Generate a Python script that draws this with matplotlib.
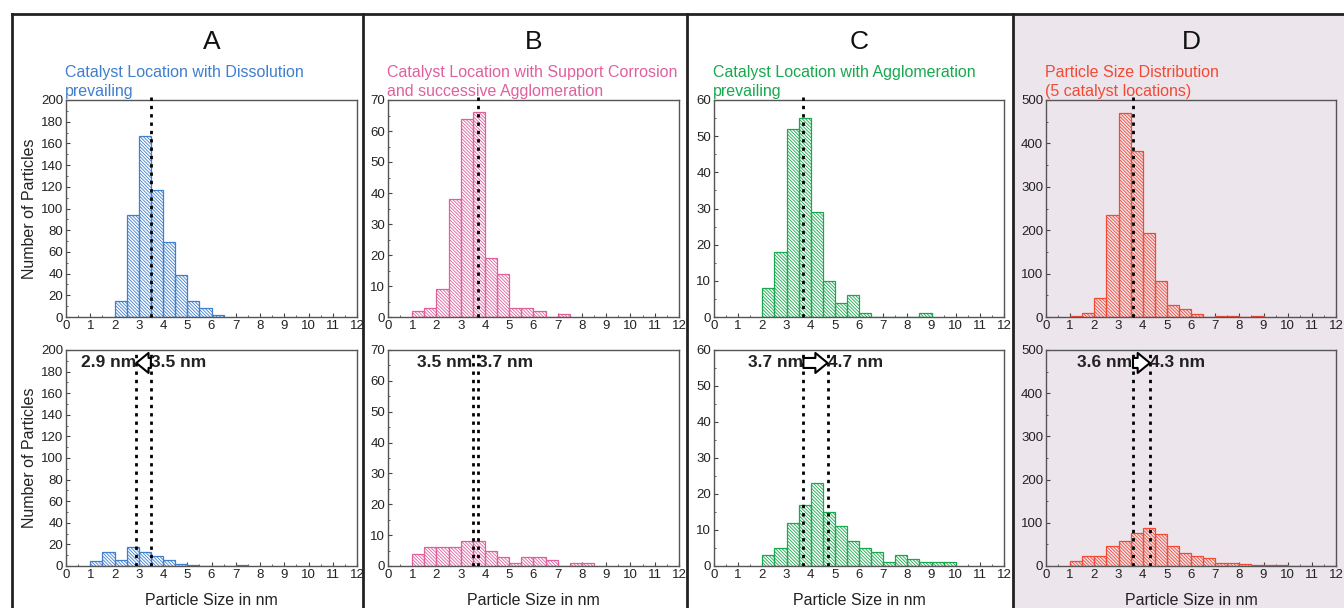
import numpy as np
import matplotlib
matplotlib.use("Agg")
import matplotlib.pyplot as plt
from matplotlib.patches import Rectangle
from matplotlib.ticker import MultipleLocator

plt.rcParams["font.family"] = ["Liberation Sans", "DejaVu Sans"]
plt.rcParams["hatch.linewidth"] = 0.6

# ---- data (bin width 0.5 nm, counts) ----
panel_letters = ["A", "B", "C", "D"]
panel_titles = [
    "Catalyst Location with Dissolution\nprevailing",
    "Catalyst Location with Support Corrosion\nand successive Agglomeration",
    "Catalyst Location with Agglomeration\nprevailing",
    "Particle Size Distribution\n(5 catalyst locations)",
]
panel_colors = ["#3f7fd0", "#e0609e", "#18a84e", "#f24a35"]
y_max = [200, 70, 60, 500]
y_major = [20, 10, 10, 100]

top_start = [2.0, 1.0, 2.0, 1.0]
top_counts = [
    [15, 94, 167, 117, 69, 39, 15, 8, 2],
    [2, 3, 9, 38, 64, 66, 19, 14, 3, 3, 2, 0, 1],
    [8, 18, 52, 55, 29, 10, 4, 6, 1, 0, 0, 0, 0, 1],
    [3, 10, 44, 234, 470, 383, 194, 83, 28, 19, 8, 0, 2, 2, 0, 2],
]
bottom_start = [1.0, 1.0, 2.0, 1.0]
bottom_counts = [
    [5, 13, 6, 18, 13, 9, 6, 2, 1, 0, 0, 0, 1],
    [4, 6, 6, 6, 8, 8, 5, 3, 1, 3, 3, 2, 0, 1, 1],
    [3, 5, 12, 17, 23, 15, 11, 7, 5, 4, 1, 3, 2, 1, 1, 1],
    [11, 24, 24, 46, 59, 77, 88, 74, 47, 31, 22, 18, 7, 8, 5, 2, 2, 2, 0, 1, 0, 1],
]
mean_before = [3.5, 3.7, 3.7, 3.6]
mean_after = [2.9, 3.5, 4.7, 4.3]
before_labels = ["3.5 nm", "3.7 nm", "3.7 nm", "3.6 nm"]
after_labels = ["2.9 nm", "3.5 nm", "4.7 nm", "4.3 nm"]
show_arrow = [True, False, True, True]

W, H = 1344, 608
fig = plt.figure(figsize=(W / 100, H / 100), dpi=100)


def rect(x0, y0, x1, y1):
    return [x0 / W, 1 - y1 / H, (x1 - x0) / W, (y1 - y0) / H]


# panel frames
bg = Rectangle((1013 / W, 0), (W - 1013) / W, 1 - 14 / H,
               transform=fig.transFigure, color="#ede5ec", zorder=-5)
fig.add_artist(bg)
for xs in [12, 363, 687, 1013]:
    fig.add_artist(plt.Line2D([xs / W, xs / W], [0, 1 - 14 / H],
                              color="#222222", lw=2, transform=fig.transFigure))
fig.add_artist(plt.Line2D([12 / W, 1], [1 - 14 / H, 1 - 14 / H],
                          color="#222222", lw=2, transform=fig.transFigure))

ax_x = [(66, 357), (388, 679), (714, 1004), (1046, 1336)]
row_y = [(100, 317), (350, 566)]


def style(ax, i):
    ax.set_facecolor("none")
    ax.set_xlim(0, 12)
    ax.set_ylim(0, y_max[i])
    ax.xaxis.set_major_locator(MultipleLocator(1))
    ax.xaxis.set_minor_locator(MultipleLocator(0.5))
    ax.yaxis.set_major_locator(MultipleLocator(y_major[i]))
    ax.yaxis.set_minor_locator(MultipleLocator(y_major[i] / 2))
    ax.tick_params(which="both", direction="in", colors="#444444",
                   labelcolor="#222222", labelsize=9.5, pad=2)
    ax.tick_params(which="major", length=3)
    ax.tick_params(which="minor", length=1.5)
    for s in ax.spines.values():
        s.set_color("#555555")
        s.set_linewidth(1)


def hist(ax, start, counts, color):
    edges = start + 0.5 * np.arange(len(counts))
    ax.bar(edges, counts, width=0.5, align="edge", facecolor="none",
           edgecolor=color, hatch="\\" * 10, linewidth=0.9, zorder=2)


for i in range(4):
    x0, x1 = ax_x[i]
    color = panel_colors[i]
    cx = (x0 + x1) / 2
    fig.text(cx / W, 1 - 42 / H, panel_letters[i], ha="center", va="center",
             fontsize=19, color="#111111")
    fig.text((x0 - 1) / W, 1 - 82 / H, panel_titles[i], ha="left", va="center",
             fontsize=11.5, color=color, linespacing=1.35)

    # top row
    ax = fig.add_axes(rect(x0, row_y[0][0], x1, row_y[0][1]))
    style(ax, i)
    hist(ax, top_start[i], top_counts[i], color)
    ax.axvline(mean_before[i], ymin=0, ymax=1.02, color="black", ls=(0, (1.2, 1.8)),
               lw=2, clip_on=False, zorder=3)

    # bottom row
    ax = fig.add_axes(rect(x0, row_y[1][0], x1, row_y[1][1]))
    style(ax, i)
    hist(ax, bottom_start[i], bottom_counts[i], color)
    for v in (mean_before[i], mean_after[i]):
        ax.axvline(v, ymin=0, ymax=1.0, color="black", ls=(0, (1.2, 1.8)),
                   lw=2, zorder=3)
    lo, hi = sorted((mean_before[i], mean_after[i]))
    lo_lab = after_labels[i] if mean_after[i] < mean_before[i] else before_labels[i]
    hi_lab = before_labels[i] if mean_after[i] < mean_before[i] else after_labels[i]
    ty = y_max[i] * 0.94
    ax.text(lo - 0.02, ty, lo_lab, ha="right", va="center", fontsize=12.5,
            fontweight="bold", color="#222222", zorder=4)
    ax.text(hi + 0.02, ty, hi_lab, ha="left", va="center", fontsize=12.5,
            fontweight="bold", color="#222222", zorder=4)
    if show_arrow[i]:
        ax.annotate("", xy=(mean_after[i], ty), xytext=(mean_before[i], ty),
                    arrowprops=dict(arrowstyle="simple,head_length=0.55,head_width=0.9,tail_width=0.45",
                                    fc="white", ec="black", lw=1.5,
                                    shrinkA=0, shrinkB=0, mutation_scale=16),
                    zorder=5)
    ax.set_xlabel("Particle Size in nm", fontsize=11.5, color="#222222", labelpad=9)

    if i == 0:
        for r in range(2):
            yc = (row_y[r][0] + row_y[r][1]) / 2
            fig.text(30 / W, 1 - yc / H, "Number of Particles", rotation=90,
                     ha="center", va="center", fontsize=11.5, color="#222222")

fig.savefig("out.png", dpi=100)
